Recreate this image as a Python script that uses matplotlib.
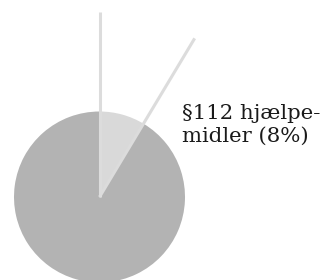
import numpy as np
import matplotlib
matplotlib.use("Agg")
import matplotlib.pyplot as plt

categories = ["§112 hjælpemidler", "Øvrige"]
values = [8.6, 91.4]
label_text = "§112 hjælpe-\nmidler (8%)"
colors = ["#d9d9d9", "#b3b3b3"]

W, H = 327, 280
fig = plt.figure(figsize=(W / 100, H / 100), dpi=100)
ax = fig.add_axes([0, 0, 1, 1])

cx, cy, r = 99.5, 83.0, 85.5
ax.pie(values, colors=colors, startangle=90, counterclock=False,
       radius=r, center=(cx, cy), frame=False,
       wedgeprops=dict(linewidth=0))

# separator lines extending beyond the pie
total = sum(values)
angles = [90, 90 - 360 * values[0] / total]
L = 185
for a in angles:
    t = np.deg2rad(a)
    ax.plot([cx, cx + L * np.cos(t)], [cy, cy + L * np.sin(t)],
            color="#dcdcdc", lw=2.2, solid_capstyle="butt", zorder=3)

ax.text(182, 280 - 125, label_text, family="DejaVu Serif", fontsize=15.3,
        ha="left", va="center", color="#1a1a1a", linespacing=1.28)

ax.set_xlim(0, W)
ax.set_ylim(0, H)
ax.set_aspect("equal")
ax.axis("off")
fig.savefig("out.png", dpi=100)
